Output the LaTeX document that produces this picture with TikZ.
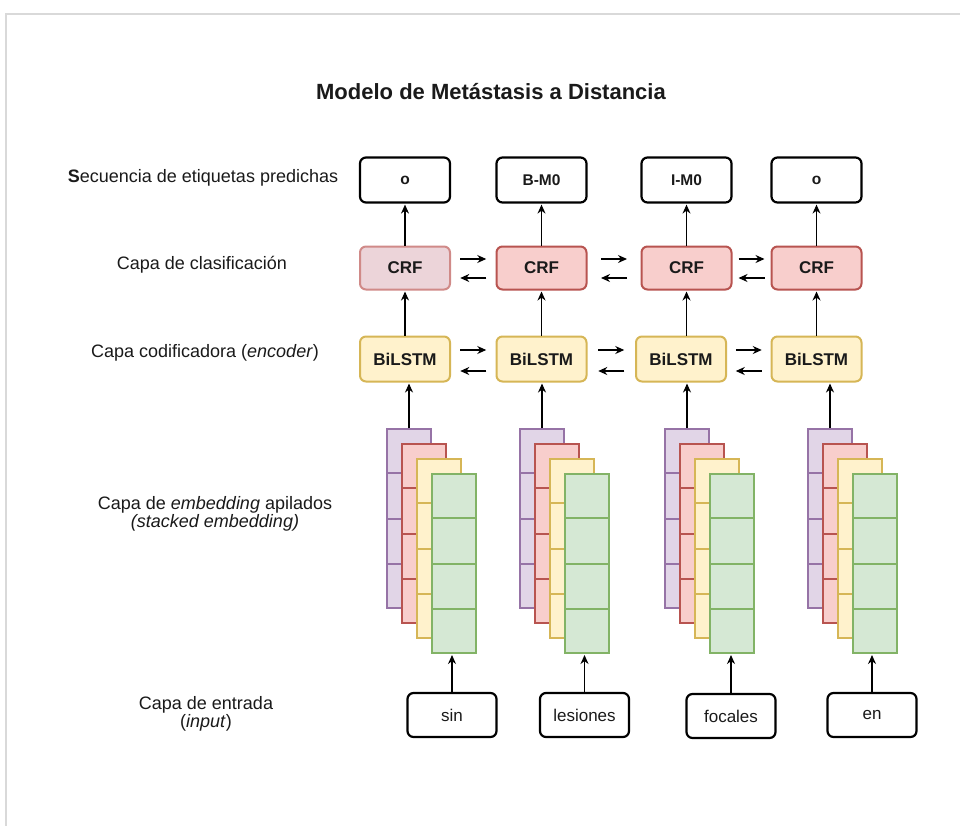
\documentclass[tikz,border=0pt]{standalone}
\usepackage{fontspec}
\setmainfont{Liberation Sans}
\usetikzlibrary{arrows.meta,calc}
\definecolor{frameg}{HTML}{D9D9D9}
\definecolor{txt}{HTML}{1A1A1A}
\definecolor{crffill}{HTML}{F8CECC}
\definecolor{crfline}{HTML}{B85450}
\definecolor{crffillA}{HTML}{ECD4D9}
\definecolor{crflineA}{HTML}{D08A88}
\definecolor{lstmfill}{HTML}{FFF2CC}
\definecolor{lstmline}{HTML}{D6B656}
\definecolor{pfill}{HTML}{E1D5E7}
\definecolor{pline}{HTML}{9673A6}
\definecolor{rfill}{HTML}{F8CECC}
\definecolor{rline}{HTML}{B85450}
\definecolor{yfill}{HTML}{FFF2CC}
\definecolor{yline}{HTML}{D6B656}
\definecolor{gfill}{HTML}{D5E8D4}
\definecolor{gline}{HTML}{82B366}
\newcommand\embcells[2]{%
  \foreach \f in {0.25,0.5,0.75}{%
    \draw[#2,line width=2pt] ($(#1.north west)!\f!(#1.south west)$) -- ($(#1.north east)!\f!(#1.south east)$);}}
\newcommand\embstack[2]{%
  \node[layer,draw=pline,fill=pfill,anchor=north west] (p#1) at (#2,428) {};
  \embcells{p#1}{pline}
  \node[layer,draw=rline,fill=rfill,anchor=north west] (r#1) at ($(#2,428)+(15,15)$) {};
  \embcells{r#1}{rline}
  \node[layer,draw=yline,fill=yfill,anchor=north west] (y#1) at ($(#2,428)+(30,30)$) {};
  \embcells{y#1}{yline}
  \node[layer,draw=gline,fill=gfill,anchor=north west] (g#1) at ($(#2,428)+(45,45)$) {};
  \embcells{g#1}{gline}}
\begin{document}
\begin{tikzpicture}[x=1pt,y=-1pt,
  every node/.style={text=txt},
  outbox/.style={draw=black, line width=2.2pt, rounded corners=6pt, minimum width=90pt, minimum height=45pt, fill=white, inner sep=0pt, font=\bfseries\fontsize{15.5}{18}\selectfont},
  crfbox/.style={draw=crfline, fill=crffill, line width=2pt, rounded corners=6pt, minimum width=90pt, minimum height=43pt, inner sep=0pt, font=\bfseries\fontsize{17}{20}\selectfont},
  lstmbox/.style={draw=lstmline, fill=lstmfill, line width=2pt, rounded corners=6pt, minimum width=90pt, minimum height=45pt, inner sep=0pt, font=\bfseries\fontsize{17}{20}\selectfont},
  inbox/.style={draw=black, line width=2.2pt, rounded corners=6pt, minimum width=89pt, minimum height=44pt, fill=white, inner sep=0pt, font=\fontsize{17}{20}\selectfont},
  layer/.style={minimum width=44pt, minimum height=179pt, line width=2pt, inner sep=0pt},
  lbl/.style={align=center, font=\fontsize{18}{18}\selectfont},
  arr/.style={-{Stealth[length=9pt,width=8pt]}, line width=1.3pt, black, shorten >=1pt}
]
\useasboundingbox (0,0) rectangle (960,825);
\fill[white] (0,0) rectangle (960,825);
\draw[frameg, line width=2pt] (6,826) -- (6,14) -- (961,14);

% title
\node[font=\bfseries\fontsize{22}{24}\selectfont] (title) at (491,92) {Modelo de Metástasis a Distancia};

% left labels
\node[lbl] (lab1) at (203,178) {{\bfseries S}ecuencia de etiquetas predichas};
\node[lbl] (lab2) at (202,265) {Capa de clasificación};
\node[lbl] (lab3) at (205,353) {Capa codificadora (\textit{encoder})};
\node[lbl] (lab4) at (215,514) {Capa de \textit{embedding} apilados\\\textit{(stacked embedding)}};
\node[lbl] (lab5) at (206,714) {Capa de entrada\\(\textit{input})};

% output labels
\node[outbox] (o1) at (405,180) {o};
\node[outbox] (o2) at (541.5,180) {B-M0};
\node[outbox] (o3) at (686.5,180) {I-M0};
\node[outbox] (o4) at (816.5,180) {o};

% CRF
\node[crfbox, draw=crflineA, fill=crffillA] (c1) at (405,268) {CRF};
\node[crfbox] (c2) at (541.5,268) {CRF};
\node[crfbox] (c3) at (686.5,268) {CRF};
\node[crfbox] (c4) at (816.5,268) {CRF};

% BiLSTM
\node[lstmbox] (l1) at (405,359) {BiLSTM};
\node[lstmbox] (l2) at (541.5,359) {BiLSTM};
\node[lstmbox] (l3) at (681,359) {BiLSTM};
\node[lstmbox] (l4) at (816.5,359) {BiLSTM};

% embeddings
\embstack{1}{386}
\embstack{2}{519}
\embstack{3}{664}
\embstack{4}{807}

% inputs
\node[inbox] (i1) at (452,715) {sin};
\node[inbox] (i2) at (584.5,715) {lesiones};
\node[inbox] (i3) at (731,716) {focales};
\node[inbox] (i4) at (872,715) {en};

% vertical arrows
\foreach \k in {1,2,3,4}{
  \draw[arr] (c\k.north) -- (o\k.south);
  \draw[arr] (c\k.south |- l\k.north) -- (c\k.south);
  \draw[arr] (p\k.north) -- (p\k.north |- l\k.south);
  \draw[arr] (i\k.north) -- (i\k.north |- g\k.south);
}

% horizontal arrows
\foreach \a/\b in {1/2,2/3,3/4}{
  \coordinate (mc\a) at ($(c\a.east)!0.5!(c\b.west)$);
  \draw[arr, shorten >=0pt] ($(mc\a)+(-13,-9)$) -- ($(mc\a)+(13,-9)$);
  \draw[arr, shorten >=0pt] ($(mc\a)+(13,10)$) -- ($(mc\a)+(-13,10)$);
  \coordinate (ml\a) at ($(l\a.east)!0.5!(l\b.west)$);
  \draw[arr, shorten >=0pt] ($(ml\a)+(-13,-9)$) -- ($(ml\a)+(13,-9)$);
  \draw[arr, shorten >=0pt] ($(ml\a)+(13,12)$) -- ($(ml\a)+(-13,12)$);
}
\end{tikzpicture}
\end{document}
